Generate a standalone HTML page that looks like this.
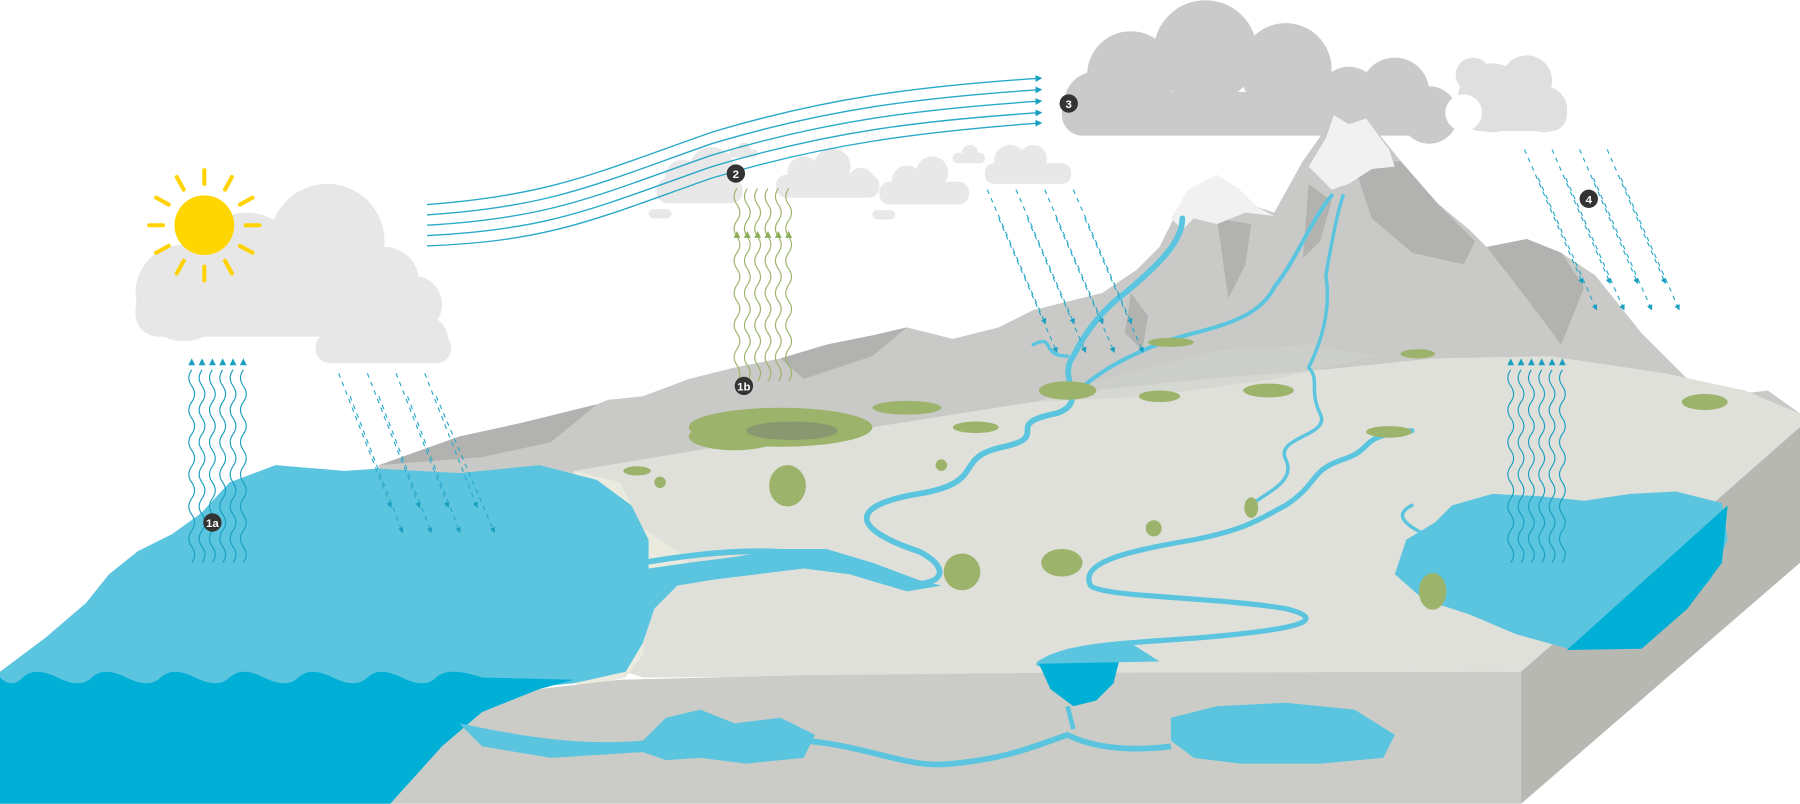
<!DOCTYPE html>
<html><head><meta charset="utf-8"><style>html,body{margin:0;padding:0;background:#fff}svg{display:block}</style></head>
<body>
<svg width="1800" height="804" viewBox="0 0 1568 700" xmlns="http://www.w3.org/2000/svg" font-family="Liberation Sans, sans-serif">
<defs>
<marker id="ab" viewBox="0 0 10 10" refX="5" refY="5" markerWidth="5" markerHeight="5" orient="auto"><path d="M0 0L10 5L0 10z" fill="#1b9fc0"/></marker>
<g id="wv"><path d="M0 0q5 -7 0 -14t0 -14t0 -14t0 -14t0 -14t0 -14t0 -14t0 -14t0 -14t0 -14t0 -14t0 -14" fill="none" stroke-width="1"/></g>
</defs>

<g fill="#e7e7e7">
<circle cx="160" cy="255" r="42"/><circle cx="215" cy="230" r="45"/><circle cx="285" cy="210" r="50"/><circle cx="335" cy="245" r="30"/><circle cx="360" cy="265" r="25"/>
<rect x="118" y="250" width="260" height="43" rx="20"/>
<circle cx="300" cy="290" r="22"/><circle cx="335" cy="280" r="25"/><circle cx="370" cy="295" r="20"/><rect x="275" y="290" width="118" height="26" rx="12"/>
</g>
<g stroke="#ffd200" stroke-width="3.5" stroke-linecap="round">
<line x1="178" y1="160" x2="178" y2="148"/><line x1="178" y1="232" x2="178" y2="244"/>
<line x1="142" y1="196" x2="130" y2="196"/><line x1="214" y1="196" x2="226" y2="196"/>
<line x1="160" y1="165" x2="154" y2="154"/><line x1="196" y1="165" x2="202" y2="154"/>
<line x1="160" y1="227" x2="154" y2="238"/><line x1="196" y1="227" x2="202" y2="238"/>
<line x1="147" y1="178" x2="136" y2="172"/><line x1="209" y1="178" x2="220" y2="172"/>
<line x1="147" y1="214" x2="136" y2="220"/><line x1="209" y1="214" x2="220" y2="220"/>
</g>
<circle cx="178" cy="196" r="26" fill="#ffd600"/>

<g fill="#e8e8e8">
<circle cx="595" cy="155" r="16"/><circle cx="620" cy="148" r="20"/><rect x="572" y="155" width="75" height="22" rx="10"/>
<circle cx="648" cy="130" r="6"/><rect x="635" y="130" width="25" height="7" rx="3"/>
<circle cx="700" cy="150" r="14"/><circle cx="725" cy="145" r="16"/><circle cx="750" cy="158" r="12"/><rect x="676" y="152" width="90" height="20" rx="9"/>
<circle cx="790" cy="157" r="13"/><circle cx="812" cy="150" r="14"/><rect x="766" y="158" width="78" height="20" rx="9"/>
<circle cx="880" cy="140" r="14"/><circle cx="900" cy="138" r="12"/><rect x="858" y="142" width="75" height="18" rx="8"/>
<circle cx="845" cy="133" r="7"/><rect x="830" y="133" width="28" height="9" rx="4"/>
<rect x="565" y="182" width="20" height="8" rx="4"/><rect x="760" y="183" width="20" height="8" rx="4"/>
</g>
<g fill="#dedfde">
<circle cx="1300" cy="85" r="30"/><circle cx="1330" cy="70" r="22"/><circle cx="1345" cy="95" r="20"/><rect x="1275" y="80" width="90" height="34" rx="14"/>
<circle cx="1283" cy="65" r="15"/>
</g>
<g fill="#c9cac9">
<circle cx="985" cy="65" r="38"/><circle cx="1050" cy="45" r="45"/><circle cx="1120" cy="60" r="40"/><circle cx="1175" cy="85" r="27"/><circle cx="1215" cy="80" r="30"/><circle cx="1245" cy="100" r="25"/><circle cx="955" cy="90" r="28"/>
<rect x="925" y="80" width="320" height="38" rx="18"/>
</g>
<circle cx="1275" cy="98" r="16" fill="#fff"/>

<g fill="none" stroke="#29a9c8" stroke-width="1.2" marker-end="url(#ab)">
<path d="M372 178C480 170 520 150 620 115C720 85 800 75 905 68"/>
<path d="M372 187C480 180 520 160 620 125C720 95 800 85 905 78"/>
<path d="M372 196C480 190 520 170 620 135C720 105 800 95 905 88"/>
<path d="M372 205C480 200 520 180 620 145C720 115 800 105 905 98"/>
<path d="M372 214C480 210 520 190 620 155C720 125 800 115 905 107"/>
</g>

<path d="M330 405L360 395L400 380L430 378L455 368L500 360L530 348L560 345L600 330L640 320L680 312L720 300L760 292L790 285L830 295L870 285L900 270L960 255L990 235L1010 215L1030 175L1060 160L1095 180L1110 185L1135 140L1160 105L1175 100L1200 115L1220 140L1250 175L1280 200L1295 215L1330 208L1360 220L1390 240L1430 290L1470 330L1500 345L1540 340L1568 360L1568 420L330 420z" fill="#c9cac7"/>
<g fill="#b2b3b1">
<path d="M1180 145L1220 140L1255 180L1285 210L1275 230L1230 220L1195 190z"/>
<path d="M1295 215L1330 208L1360 220L1380 250L1360 300L1330 260z"/>
<path d="M1060 190L1090 195L1085 230L1070 260z"/>
<path d="M1140 160L1160 175L1150 210L1135 225z"/>
<path d="M985 255L1000 275L995 305L980 290z"/>
<path d="M330 405L400 380L455 368L520 352L480 385L420 398z"/>
<path d="M680 312L720 300L760 292L790 285L760 310L700 330z"/>
</g>
<g fill="#f1f1f1">
<path d="M1020 190L1035 165L1060 152L1080 165L1095 180L1110 188L1085 185L1060 195L1040 190L1030 200z"/>
<path d="M1140 145L1155 120L1162 100L1175 108L1190 103L1210 130L1215 145L1195 147L1175 160L1160 165z"/>
</g>

<path d="M500 410L620 390L760 372L900 350L950 340L1050 330L1150 322L1250 312L1350 310L1450 325L1520 340L1568 360L1568 372L1325 585L560 590L470 560L460 470z" fill="#dfe0da"/>
<path d="M900 350L960 330L1060 305L1140 300L1200 310L1110 330L1000 345z" fill="#cfd0cb" opacity=".6"/>
<path d="M500 410L540 420L560 460L590 480L610 500L590 510L565 530L560 570L545 590L500 600L520 560L535 520L530 480z" fill="#ebeadf"/>

<path d="M1325 585L1568 372L1568 490L1325 700z" fill="#b7b8b2"/>
<path d="M340 700L385 650L420 620L470 600L540 592L700 588L900 586L1325 585L1325 700z" fill="#cbccc7"/>

<path d="M0 585L40 555L75 525L95 500L120 480L150 465L175 447L200 420L240 405L300 410L330 408L400 412L470 405L520 418L550 440L565 470L565 495L600 490L640 485L680 478L720 478L760 490L800 505L820 510L790 515L740 500L700 495L660 500L620 505L590 510L570 530L560 560L545 585L500 595L450 600L400 615L370 640L330 650L0 640z" fill="#5bc5e0"/>
<path d="M0 590Q10 600 20 590T50 590T80 590T110 590T140 590T170 590T200 590T230 590T260 590T290 590T320 590T350 590T380 590T420 590L500 592L470 600L420 620L385 650L340 700L0 700z" fill="#00afd6"/>

<path d="M1265 440L1300 430L1340 432L1380 436L1420 430L1460 428L1500 438L1505 470L1490 505L1460 535L1420 560L1370 566L1320 552L1280 535L1240 522L1215 500L1225 470L1250 455z" fill="#5bc5e0"/>
<path d="M1365 566L1505 440L1500 490L1470 530L1430 565z" fill="#00afd6"/>

<g fill="none" stroke="#5bc5e0" stroke-linecap="round">
<path d="M560 490C620 480 700 470 760 500C810 520 840 500 800 480C740 460 740 440 800 430C860 420 830 400 870 390C920 380 870 370 920 360C950 350 920 330 935 310C945 290 960 270 980 255C1010 230 1030 210 1030 190" stroke-width="5"/>
<path d="M900 300C920 290 905 310 930 310" stroke-width="3"/>
<path d="M940 340C960 320 1000 300 1040 290C1080 280 1100 270 1110 250C1130 225 1140 195 1160 170" stroke-width="3.5"/>
<path d="M905 578C930 560 990 560 1050 555C1130 548 1160 540 1120 530C1060 520 960 520 950 510C940 490 980 480 1040 470C1090 460 1100 450 1120 440C1150 420 1140 410 1170 400C1200 390 1180 380 1230 375" stroke-width="4.5"/>
<path d="M1090 440C1100 430 1130 420 1120 400C1110 380 1160 380 1150 360C1140 340 1150 330 1140 320C1150 300 1160 270 1155 240C1160 210 1165 185 1170 170" stroke-width="3"/>
<path d="M1250 470C1230 460 1210 450 1230 440" stroke-width="3"/>
</g>
<path d="M905 578L975 575L970 595L955 610L935 615L915 600z" fill="#00afd6"/>
<path d="M905 578L1010 576L985 560L930 565z" fill="#5bc5e0"/>
<g fill="#5bc5e0">
<path d="M400 630C450 640 500 650 560 645L580 625L610 618L640 630L680 625L710 640L700 660L650 665L610 660L580 662L560 655L480 660L420 650z"/>
<path d="M1020 625L1060 615L1120 612L1180 618L1215 640L1205 660L1150 665L1080 665L1040 660L1020 645z"/>
</g>
<path d="M700 645C760 650 790 670 830 665C880 660 900 650 930 640C950 650 980 655 1020 650" fill="none" stroke="#5bc5e0" stroke-width="5"/>
<path d="M930 615L935 635" stroke="#5bc5e0" stroke-width="4"/>

<g fill="#9bb36a">
<ellipse cx="680" cy="372" rx="80" ry="17"/>
<ellipse cx="640" cy="380" rx="40" ry="12"/>
<ellipse cx="790" cy="355" rx="30" ry="6"/>
<ellipse cx="930" cy="340" rx="25" ry="8"/>
<ellipse cx="1010" cy="345" rx="18" ry="5"/>
<ellipse cx="1105" cy="340" rx="22" ry="6"/>
<ellipse cx="1210" cy="376" rx="20" ry="5"/>
<ellipse cx="1235" cy="308" rx="15" ry="4"/>
<ellipse cx="1485" cy="350" rx="20" ry="7"/>
<ellipse cx="1020" cy="298" rx="20" ry="4"/>
<ellipse cx="850" cy="372" rx="20" ry="5"/>
<ellipse cx="686" cy="423" rx="16" ry="18"/>
<ellipse cx="838" cy="498" rx="16" ry="16"/>
<ellipse cx="925" cy="490" rx="18" ry="12"/>
<ellipse cx="1248" cy="515" rx="12" ry="16"/>
<ellipse cx="1090" cy="442" rx="6" ry="9"/>
<ellipse cx="1005" cy="460" rx="7" ry="7"/>
<ellipse cx="820" cy="405" rx="5" ry="5"/>
<ellipse cx="575" cy="420" rx="5" ry="5"/>
<ellipse cx="555" cy="410" rx="12" ry="4"/>
</g>
<g fill="#7a7d78" opacity=".5"><ellipse cx="690" cy="375" rx="40" ry="8"/></g>

<g stroke="#1b9fc0">
<use href="#wv" x="167" y="490"/><use href="#wv" x="176" y="490"/><use href="#wv" x="185" y="490"/><use href="#wv" x="194" y="490"/><use href="#wv" x="203" y="490"/><use href="#wv" x="212" y="490"/>
<use href="#wv" x="1316" y="490"/><use href="#wv" x="1325" y="490"/><use href="#wv" x="1334" y="490"/><use href="#wv" x="1343" y="490"/><use href="#wv" x="1352" y="490"/><use href="#wv" x="1361" y="490"/>
</g>
<g fill="#1b9fc0">
<path d="M164 318l3-6 3 6z M173 318l3-6 3 6z M182 318l3-6 3 6z M191 318l3-6 3 6z M200 318l3-6 3 6z M209 318l3-6 3 6z"/>
<path d="M1313 318l3-6 3 6z M1322 318l3-6 3 6z M1331 318l3-6 3 6z M1340 318l3-6 3 6z M1349 318l3-6 3 6z M1358 318l3-6 3 6z"/>
</g>
<g stroke="#9bb36a">
<use href="#wv" x="642" y="332"/><use href="#wv" x="651" y="332"/><use href="#wv" x="660" y="332"/><use href="#wv" x="669" y="332"/><use href="#wv" x="678" y="332"/><use href="#wv" x="687" y="332"/>
</g>
<g fill="#8fae5a">
<path d="M639 207l3-6 3 6z M648 207l3-6 3 6z M657 207l3-6 3 6z M666 207l3-6 3 6z M675 207l3-6 3 6z M684 207l3-6 3 6z"/>
</g>

<g stroke="#29a9c8" stroke-width="1" stroke-dasharray="4 4" marker-end="url(#ab)">
<line x1="295" y1="325" x2="340" y2="440"/><line x1="320" y1="325" x2="365" y2="440"/><line x1="345" y1="325" x2="390" y2="440"/><line x1="370" y1="325" x2="415" y2="440"/>
<line x1="305" y1="345" x2="350" y2="462"/><line x1="330" y1="345" x2="375" y2="462"/><line x1="355" y1="345" x2="400" y2="462"/><line x1="380" y1="345" x2="430" y2="462"/>
<line x1="860" y1="165" x2="910" y2="280"/><line x1="885" y1="165" x2="935" y2="280"/><line x1="910" y1="165" x2="960" y2="280"/><line x1="935" y1="165" x2="985" y2="280"/>
<line x1="870" y1="190" x2="920" y2="305"/><line x1="895" y1="190" x2="945" y2="305"/><line x1="920" y1="190" x2="970" y2="305"/><line x1="945" y1="190" x2="995" y2="305"/>
<line x1="1328" y1="130" x2="1378" y2="245"/><line x1="1352" y1="130" x2="1402" y2="245"/><line x1="1376" y1="130" x2="1426" y2="245"/><line x1="1400" y1="130" x2="1450" y2="245"/>
<line x1="1340" y1="155" x2="1390" y2="268"/><line x1="1364" y1="155" x2="1414" y2="268"/><line x1="1388" y1="155" x2="1438" y2="268"/><line x1="1412" y1="155" x2="1462" y2="268"/>
</g>

<g font-weight="bold" font-size="10" fill="#fff" text-anchor="middle">
<circle cx="185" cy="455" r="8" fill="#333"/><text x="185" y="459">1a</text>
<circle cx="648" cy="336" r="8" fill="#333"/><text x="648" y="340">1b</text>
<circle cx="641" cy="151" r="8" fill="#333"/><text x="641" y="155">2</text>
<circle cx="931" cy="90" r="8" fill="#333"/><text x="931" y="94">3</text>
<circle cx="1384" cy="173" r="8" fill="#333"/><text x="1384" y="177">4</text>
</g>
</svg>
</body></html>
